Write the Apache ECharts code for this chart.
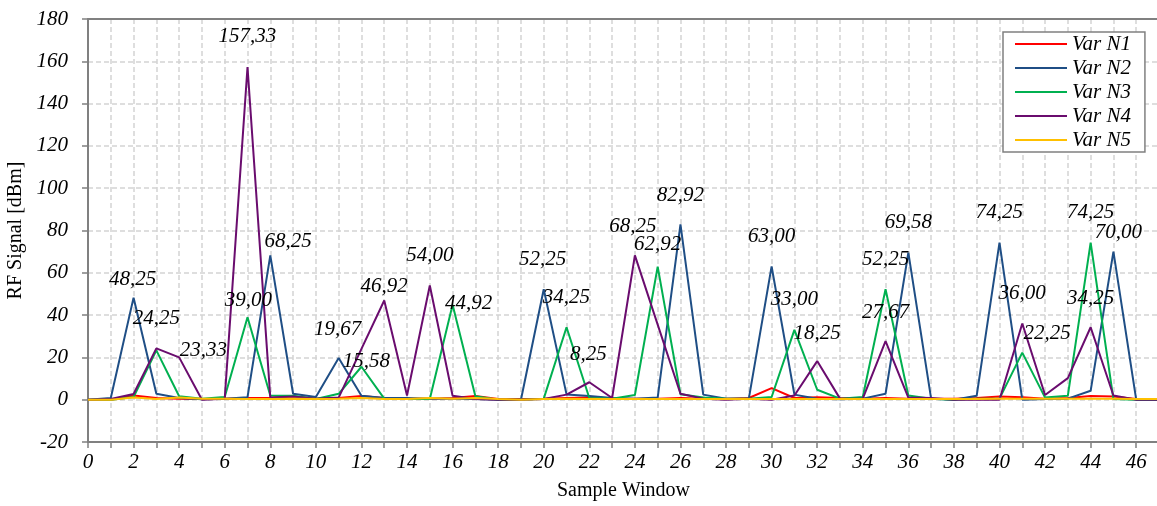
<!DOCTYPE html>
<html>
<head>
<meta charset="utf-8">
<script src="https://cdn.jsdelivr.net/npm/echarts@6/dist/echarts.min.js"></script>
<style>
    html, body { margin: 0; padding: 0; background: #fff; }
    .chart { width: 1157px; height: 506px; }
</style>
</head>
<body>
<div class="chart"></div>
<script>
// x categories (sample window)
var categories = ['0', '1', '2', '3', '4', '5', '6', '7', '8', '9', '10', '11', '12', '13', '14', '15',
    '16', '17', '18', '19', '20', '21', '22', '23', '24', '25', '26', '27', '28', '29', '30', '31',
    '32', '33', '34', '35', '36', '37', '38', '39', '40', '41', '42', '43', '44', '45', '46', '47'];
var seriesNames = ['Var N1', 'Var N2', 'Var N3', 'Var N4', 'Var N5'];

var n1Data = [0, 0, 2, 0.8, 0.5, 0.3, 0.5, 0.8, 0.8, 1.5, 0.5, 0.8, 1.8, 0.8, 0.5, 0.5,
    0.8, 1.8, 0.3, 0.3, 0.5, 0.8, 1, 0.5, 0.5, 0.5, 0.8, 0.5, 0.5, 0.8, 5.5, 0.8,
    1.2, 0.8, 0.5, 0.8, 0.5, 0.5, 0.5, 0.8, 1.5, 1.2, 0.5, 0.8, 1.8, 1.5, 0.3, 0.3];
var n2Data = [0, 0.8, 48.25, 2.8, 0.8, 0.2, 0.5, 1.2, 68.25, 2.8, 1.3, 19.67, 1.9, 0.8, 0.8, 0.5,
    0.5, 0.3, 0, 0, 52.25, 2.5, 1.8, 0.8, 0.5, 1, 82.92, 2.4, 0.5, 0.5, 63.00, 2.4,
    0.5, 0.2, 0.5, 2.8, 69.58, 0.5, 0, 1.9, 74.25, 0, 0.3, 0.5, 4.2, 70.00, 0, 0];
var n3Data = [0, 0, 1.3, 23.33, 1.6, 0.5, 1.3, 39.00, 2.0, 1.9, 0.3, 2.8, 15.58, 0.5, 0.3, 0.3,
    44.92, 1.6, 0, 0, 0.5, 34.25, 0.8, 0.5, 2.2, 62.92, 2.6, 1, 0.5, 0.5, 1.3, 33.00,
    4.7, 0.5, 1.3, 52.25, 2.0, 0.5, 0, 0.5, 0.5, 22.25, 1.0, 1.9, 74.25, 0.3, 0, 0];
var n4Data = [0, 0.3, 2.7, 24.25, 20.0, 0, 0.5, 157.33, 1.0, 1.5, 0.5, 1.0, 24.0, 46.92, 2.0, 54.00,
    1.9, 0.3, 0, 0, 0.3, 2.4, 8.25, 0.8, 68.25, 35.5, 2.8, 0.5, 0, 0.5, 0, 2.0,
    18.25, 0.5, 0.5, 27.67, 1.0, 0.8, 0, 0, 0, 36.00, 2.2, 10.2, 34.25, 2.0, 0, 0];
var n5Data = [0, 0, 1, 0.3, 1, 0.5, 0.5, 0.3, 0.3, 0.5, 0.3, 0.5, 0.8, 0.3, 0.3, 0.8,
    0.5, 0.8, 0.3, 0, 0.3, 0.5, 0.3, 0.3, 0.3, 0.3, 0.3, 0.3, 0.3, 0.3, 0.3, 0.3,
    0.3, 0.3, 0.3, 0.3, 0.3, 0.3, 0.3, 0.3, 0.5, 0.5, 0.5, 0.5, 0.5, 0.5, 0.3, 0.3];

// which points carry a value label
var n2Labels = [2, 8, 11, 20, 26, 30, 36, 40, 45];
var n3Labels = [3, 7, 12, 16, 21, 25, 31, 35, 41, 44];
var n4Labels = [3, 7, 13, 15, 22, 24, 32, 35, 41, 44];

// label offsets from the point (px), like the dragged Excel labels
var labelOffsets = {
    'N2:2': [-1, -18], 'N2:8': [18, -14], 'N2:11': [-1, -29], 'N2:20': [-1, -30], 'N2:26': [0, -29],
    'N2:30': [0, -30], 'N2:36': [0, -30], 'N2:40': [0, -30], 'N2:45': [5, -19],
    'N3:3': [47, 0], 'N3:7': [1, -17], 'N3:12': [5, -5], 'N3:16': [16, -1], 'N3:21': [0, -30],
    'N3:25': [0, -22], 'N3:31': [0, -30], 'N3:35': [0, -30], 'N3:41': [25, -19], 'N3:44': [0, -30],
    'N4:3': [0, -30], 'N4:7': [0, -30], 'N4:13': [0, -14], 'N4:15': [0, -30], 'N4:22': [-1, -28],
    'N4:24': [-2, -29], 'N4:32': [0, -28], 'N4:35': [0, -29], 'N4:41': [0, -30], 'N4:44': [0, -29]
};

var colors = ['#ff0000', '#1f4e85', '#00b050', '#6a0c6e', '#ffc000'];
var serifFont = '"Liberation Serif", "DejaVu Serif", serif';

function fmt(v) {
    return v.toFixed(2).replace('.', ',');
}

// turn plain values into items, adding a label where needed
function buildData(values, labels, key) {
    return values.map(function (v, i) {
        if (labels.indexOf(i) < 0) return v;
        var off = labelOffsets[key + ':' + i] || [0, -30];
        return {
            value: v,
            label: {
                show: true,
                position: off,
                align: 'center',
                verticalAlign: 'middle',
                formatter: fmt(v)
            }
        };
    });
}

function makeSeries(name, values, labels, key, color) {
    return {
        name: name,
        type: 'line',
        data: buildData(values, labels, key),
        symbol: 'circle',
        symbolSize: 0.1,
        showSymbol: true,
        showAllSymbol: true,
        color: color,
        lineStyle: { width: 2, color: color },
        itemStyle: { color: color },
        label: {
            show: false,
            color: '#000',
            fontFamily: serifFont,
            fontStyle: 'italic',
            fontSize: 21
        },
        emphasis: { disabled: true },
        z: 3
    };
}

var myChart = echarts.init(document.querySelector('.chart'));
var gridLine = { color: '#d4d4d4', width: 1.5, type: [5, 3] };
var axisGrey = '#808080';

var option = {
    animation: false,
    backgroundColor: '#fff',
    grid: {
        left: 88,
        top: 19,
        right: -2,
        bottom: 64,
        outerBoundsMode: 'none'
    },
    legend: {
        orient: 'vertical',
        left: 1003,
        top: 32,
        padding: [0, 14, 0, 12],
        itemGap: 0,
        itemWidth: 52,
        itemHeight: 2,
        itemTextGap: 6,
        icon: 'rect',
        backgroundColor: '#fff',
        borderColor: axisGrey,
        borderWidth: 1.5,
        data: seriesNames,
        textStyle: {
            color: '#000',
            fontFamily: serifFont,
            fontStyle: 'italic',
            fontSize: 21,
            lineHeight: 24
        }
    },
    xAxis: [
        {
            type: 'category',
            data: categories,
            boundaryGap: false,
            name: 'Sample Window',
            nameLocation: 'middle',
            nameGap: 39,
            nameTextStyle: { color: '#000', fontFamily: serifFont, fontSize: 20 },
            axisLine: { onZero: false, lineStyle: { color: axisGrey, width: 2 } },
            axisTick: { show: true, interval: 0, length: 6, lineStyle: { color: axisGrey, width: 1.5 } },
            axisLabel: {
                interval: 1,
                margin: 10,
                color: '#000',
                fontFamily: serifFont,
                fontStyle: 'italic',
                fontSize: 21
            },
            splitLine: { show: true, interval: 0, lineStyle: gridLine }
        },
        {
            // top frame line only
            type: 'category',
            data: categories,
            boundaryGap: false,
            position: 'top',
            axisLine: { show: true, onZero: false, lineStyle: { color: axisGrey, width: 2 } },
            axisTick: { show: false },
            axisLabel: { show: false },
            splitLine: { show: false }
        }
    ],
    yAxis: {
        type: 'value',
        min: -20,
        max: 180,
        interval: 20,
        name: 'RF Signal [dBm]',
        nameLocation: 'middle',
        nameGap: 56,
        nameTextStyle: { color: '#000', fontFamily: serifFont, fontSize: 20 },
        axisLine: { show: true, lineStyle: { color: axisGrey, width: 2 } },
        axisTick: { show: true, length: 6, lineStyle: { color: axisGrey, width: 1.5 } },
        axisLabel: {
            margin: 20,
            color: '#000',
            fontFamily: serifFont,
            fontStyle: 'italic',
            fontSize: 21
        },
        splitLine: { show: true, lineStyle: gridLine }
    },
    series: [
        makeSeries(seriesNames[0], n1Data, [], 'N1', colors[0]),
        makeSeries(seriesNames[1], n2Data, n2Labels, 'N2', colors[1]),
        makeSeries(seriesNames[2], n3Data, n3Labels, 'N3', colors[2]),
        makeSeries(seriesNames[3], n4Data, n4Labels, 'N4', colors[3]),
        makeSeries(seriesNames[4], n5Data, [], 'N5', colors[4])
    ]
};
myChart.setOption(option);
</script>
</body>
</html>
